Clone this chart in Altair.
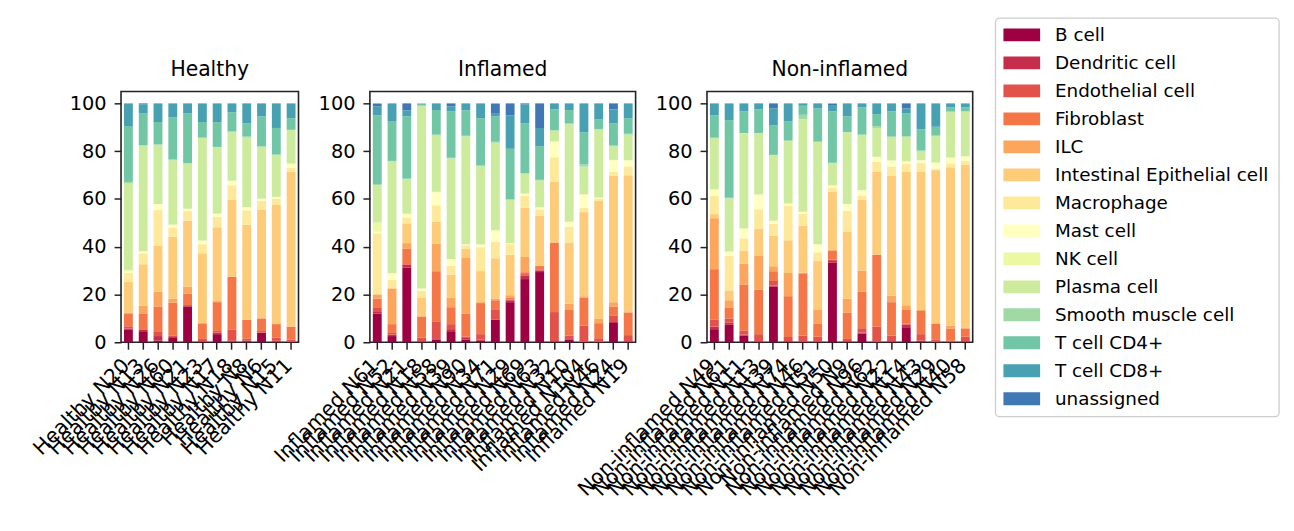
import altair as alt
import pandas as pd

FONT = "DejaVu Sans"

CATEGORIES = ["B cell", "Dendritic cell", "Endothelial cell", "Fibroblast", "ILC",
              "Intestinal Epithelial cell", "Macrophage", "Mast cell", "NK cell",
              "Plasma cell", "Smooth muscle cell", "T cell CD4+", "T cell CD8+", "unassigned"]

COLORS = ["#9e0142", "#c52d4b", "#e2524a", "#f57647", "#fca55d", "#fecb79", "#fee99a",
          "#ffffbf", "#edf8a3", "#cdeb9d", "#a1d9a4", "#70c6a5", "#48a1b3", "#3f78b5"]

HEALTHY_SAMPLES = ["Healthy N20", "Healthy N13", "Healthy N26", "Healthy N60", "Healthy N21",
                   "Healthy N23", "Healthy N17", "Healthy N18", "Healthy N8", "Healthy N6",
                   "Healthy N15", "Healthy N11"]
HEALTHY_VALUES = [
    [5.2, 0.6, 0.9, 5.4, 0.4, 12.8, 3.7, 1.1, 0.1, 36.5, 0.5, 23.4, 9.5, 0.0],
    [4.3, 0.9, 0.3, 6.6, 3.3, 17.3, 4.6, 0.7, 0.1, 44.3, 0.2, 13.4, 3.7, 0.4],
    [0.7, 1.9, 1.7, 10.7, 6.2, 19.4, 14.8, 2.4, 0.1, 24.9, 0.1, 9.4, 7.8, 0.0],
    [1.8, 0.4, 0.7, 13.7, 1.7, 26.0, 3.8, 1.1, 0.1, 26.9, 0.4, 17.7, 5.8, 0.0],
    [15.0, 0.5, 0.1, 4.8, 2.8, 27.7, 4.0, 0.9, 0.1, 18.9, 0.2, 20.8, 4.2, 0.0],
    [0.2, 0.3, 0.9, 6.3, 0.4, 29.2, 3.8, 1.4, 0.1, 43.0, 0.2, 6.5, 7.8, 0.0],
    [3.4, 0.6, 0.7, 12.1, 0.4, 30.9, 4.4, 1.2, 0.1, 27.7, 0.2, 10.4, 7.8, 0.0],
    [0.3, 0.3, 4.6, 22.2, 0.1, 32.3, 6.0, 1.8, 0.1, 20.3, 0.4, 8.0, 3.7, 0.0],
    [0.4, 0.4, 0.7, 7.9, 0.1, 39.7, 6.0, 1.3, 0.1, 29.1, 0.4, 5.6, 8.3, 0.0],
    [3.9, 0.2, 0.6, 5.3, 0.1, 45.4, 3.7, 0.9, 0.1, 21.7, 0.2, 12.6, 5.4, 0.0],
    [0.3, 0.3, 1.3, 5.7, 0.1, 49.8, 2.6, 0.7, 0.1, 17.6, 0.2, 11.1, 10.3, 0.0],
    [0.1, 0.1, 0.9, 5.4, 0.1, 65.0, 1.7, 1.6, 0.1, 14.1, 0.1, 4.9, 6.2, 0.0],
]

INFLAMED_SAMPLES = ["Inflamed N61", "Inflamed N52", "Inflamed N21", "Inflamed N18", "Inflamed N58",
                    "Inflamed N39", "Inflamed N90", "Inflamed N34", "Inflamed N71", "Inflamed N29",
                    "Inflamed N69", "Inflamed N63", "Inflamed N32", "Inflamed N10", "Inflamed N104",
                    "Inflamed N46", "Inflamed N24", "Inflamed N19"]
INFLAMED_VALUES = [
    [12.1, 0.6, 1.7, 3.8, 1.7, 0.4, 25.4, 0.6, 3.9, 15.6, 0.5, 28.8, 3.8, 1.2],
    [2.6, 0.6, 0.7, 3.7, 14.8, 0.4, 3.3, 2.8, 0.1, 46.8, 0.2, 16.7, 7.4, 0.0],
    [31.2, 1.2, 0.3, 6.4, 2.4, 8.3, 2.5, 1.3, 0.2, 14.4, 0.3, 26.1, 2.5, 2.9],
    [0.2, 0.3, 1.4, 8.7, 0.3, 7.9, 2.8, 0.8, 0.1, 76.3, 0.5, 0.7, 0.0, 0.0],
    [1.1, 0.6, 7.1, 21.0, 11.6, 9.1, 6.9, 5.5, 0.2, 23.6, 0.4, 10.3, 2.8, 0.0],
    [4.3, 1.2, 2.1, 7.1, 4.1, 9.5, 3.7, 2.8, 0.1, 42.1, 0.3, 19.5, 2.1, 1.2],
    [1.1, 1.0, 0.2, 9.8, 23.3, 4.0, 1.4, 0.3, 0.1, 45.4, 0.2, 10.7, 2.9, 0.0],
    [0.6, 0.5, 2.3, 13.0, 0.4, 13.0, 10.0, 1.1, 0.1, 32.6, 0.4, 19.8, 6.2, 0.0],
    [9.4, 0.2, 4.2, 3.8, 0.6, 17.0, 6.8, 4.8, 0.1, 36.7, 0.4, 10.7, 1.1, 4.3],
    [16.8, 0.8, 0.3, 0.9, 0.9, 16.9, 4.5, 0.3, 0.1, 18.1, 0.3, 21.1, 14.0, 5.0],
    [26.5, 1.4, 0.7, 0.8, 6.4, 20.6, 5.1, 0.8, 0.1, 8.3, 0.3, 20.9, 7.9, 0.4],
    [29.4, 0.7, 0.2, 1.6, 0.2, 20.9, 2.6, 0.8, 0.1, 11.2, 0.3, 14.1, 7.6, 10.3],
    [0.3, 0.2, 12.2, 29.1, 0.2, 25.4, 10.3, 6.5, 0.2, 4.5, 0.3, 8.7, 2.5, 0.0],
    [1.1, 0.6, 1.1, 10.7, 2.7, 25.6, 6.6, 1.9, 0.1, 40.9, 0.3, 5.6, 2.8, 0.0],
    [0.1, 0.1, 6.8, 11.8, 0.5, 35.3, 1.7, 5.6, 0.2, 11.6, 0.9, 13.5, 12.1, 0.0],
    [0.1, 0.1, 1.5, 6.3, 2.0, 49.1, 1.1, 0.3, 0.1, 28.4, 0.3, 4.1, 6.6, 0.0],
    [8.1, 0.4, 2.8, 3.7, 1.8, 53.1, 1.6, 4.8, 0.2, 5.7, 0.3, 9.3, 5.9, 2.5],
    [0.2, 0.3, 2.5, 9.5, 0.1, 57.3, 3.7, 2.5, 0.1, 10.7, 0.4, 6.5, 6.2, 0.0],
]

NONINFLAMED_SAMPLES = ["Non-inflamed N49", "Non-inflamed N61", "Non-inflamed N11", "Non-inflamed N13",
                       "Non-inflamed N39", "Non-inflamed N74", "Non-inflamed N46", "Non-inflamed N51",
                       "Non-inflamed N50", "Non-inflamed N9", "Non-inflamed N96", "Non-inflamed N62",
                       "Non-inflamed N22", "Non-inflamed N14", "Non-inflamed N43", "Non-inflamed N29",
                       "Non-inflamed N40", "Non-inflamed N58"]
NONINFLAMED_VALUES = [
    [5.5, 1.1, 3.0, 21.1, 21.4, 1.7, 7.8, 2.5, 0.1, 21.5, 0.2, 9.4, 5.0, 0.0],
    [7.3, 1.0, 1.7, 4.6, 3.0, 4.1, 14.5, 1.4, 0.5, 22.1, 0.3, 32.5, 7.0, 0.0],
    [2.8, 0.4, 1.6, 19.3, 8.8, 5.6, 5.1, 4.0, 0.1, 40.0, 0.1, 9.1, 3.3, 0.0],
    [0.2, 0.3, 2.9, 18.7, 14.1, 11.5, 8.1, 6.1, 0.1, 25.7, 0.1, 9.9, 2.5, 0.0],
    [23.4, 0.4, 1.9, 4.1, 2.1, 12.8, 5.0, 1.2, 0.1, 27.5, 0.1, 12.5, 7.0, 2.1],
    [0.3, 0.2, 1.7, 17.1, 9.7, 13.7, 14.5, 0.8, 0.1, 26.1, 0.4, 7.8, 7.6, 0.0],
    [0.2, 0.2, 2.4, 26.1, 0.3, 19.6, 5.0, 0.8, 0.1, 38.8, 1.8, 3.8, 1.0, 0.0],
    [0.2, 0.2, 1.9, 5.4, 6.1, 20.2, 3.7, 3.3, 0.1, 42.8, 0.2, 13.9, 2.1, 0.0],
    [33.3, 0.8, 0.6, 3.8, 0.4, 24.1, 1.6, 1.1, 0.1, 9.2, 0.2, 21.6, 2.3, 1.0],
    [0.2, 0.3, 0.9, 11.1, 5.8, 28.1, 8.8, 2.7, 0.1, 30.1, 0.1, 6.6, 5.4, 0.0],
    [3.6, 0.5, 1.8, 15.4, 8.7, 29.7, 1.9, 2.1, 0.1, 23.2, 0.1, 11.4, 1.7, 0.0],
    [0.1, 0.1, 6.3, 30.1, 0.1, 34.9, 4.0, 2.1, 0.1, 12.1, 0.8, 5.0, 4.5, 0.0],
    [0.2, 0.3, 2.3, 14.0, 2.7, 50.4, 3.7, 2.5, 0.1, 9.8, 0.2, 10.6, 3.3, 0.0],
    [6.3, 1.1, 0.4, 5.7, 2.0, 56.0, 3.1, 1.1, 0.1, 10.2, 0.2, 9.7, 2.0, 2.1],
    [0.4, 0.3, 2.7, 9.7, 0.4, 57.8, 3.9, 0.9, 0.1, 3.6, 0.5, 8.8, 10.9, 0.0],
    [0.1, 0.1, 1.0, 6.5, 0.3, 64.1, 0.5, 2.6, 0.1, 11.2, 0.1, 3.7, 9.8, 0.0],
    [0.2, 0.1, 0.3, 5.2, 1.1, 66.4, 1.7, 2.3, 0.1, 19.0, 0.3, 1.7, 1.7, 0.0],
    [0.2, 0.3, 1.8, 3.5, 0.4, 68.4, 1.6, 1.9, 0.1, 18.7, 0.3, 1.5, 1.7, 0.0],
]

Y_TICKS = [0, 20, 40, 60, 80, 100]


def make_df(samples, values):
    rows = []
    for s, vals in zip(samples, values):
        tot = sum(vals)
        for i, (c, v) in enumerate(zip(CATEGORIES, vals)):
            rows.append({"sample": s, "cell": c, "order": i, "pct": v / tot * 100.0})
    return pd.DataFrame(rows)


color_enc = alt.Color("cell:N", scale=alt.Scale(domain=CATEGORIES, range=COLORS), legend=None)

PLOT_H = 253
STEP = 14.9


def panel(title, samples, values):
    df = make_df(samples, values)
    return alt.Chart(df).mark_bar().encode(
        x=alt.X("sample:N", sort=samples,
                scale=alt.Scale(paddingInner=0.4, paddingOuter=0.2),
                axis=alt.Axis(title=None, labelAngle=315, labelAlign="right", labelBaseline="top",
                              labelOffset=-9, labelPadding=6, labelOverlap=False, labelLimit=400,
                              labelFontSize=20.5, tickSize=7, domain=False)),
        y=alt.Y("pct:Q", stack="zero",
                scale=alt.Scale(domain=[0, 105], nice=False, zero=True),
                axis=alt.Axis(title=None, values=Y_TICKS, grid=False, domain=False,
                              labelFontSize=19.5, tickSize=7, labelPadding=8)),
        color=color_enc,
        order=alt.Order("order:Q", sort="ascending"),
    ).properties(
        width=round(STEP * len(samples)), height=PLOT_H,
        title=alt.TitleParams(title, fontSize=20.5, font=FONT, fontWeight="normal",
                              color="black", offset=11, anchor="middle"),
    )


healthy = panel("Healthy", HEALTHY_SAMPLES, HEALTHY_VALUES)
inflamed = panel("Inflamed", INFLAMED_SAMPLES, INFLAMED_VALUES)
noninfl = panel("Non-inflamed", NONINFLAMED_SAMPLES, NONINFLAMED_VALUES)

# legend drawn as its own small chart
leg_df = pd.DataFrame({"cell": CATEGORIES})
rows_enc = alt.Y("cell:N", sort=CATEGORIES,
                 scale=alt.Scale(type="point", range=[-57, 310], padding=0), axis=None)

box = alt.Chart(pd.DataFrame({"k": [0]})).mark_rect(
    fill="white", stroke="#cccccc", strokeWidth=1.3, cornerRadius=4
).encode(x=alt.value(-49), x2=alt.value(237), y=alt.value(-74), y2=alt.value(328))

swatches = alt.Chart(leg_df).mark_rect(yOffset=-6.5, y2Offset=6.5).encode(
    x=alt.value(-41), x2=alt.value(-4), y=rows_enc, y2=alt.Y2("cell:N"), color=color_enc
)

labels = alt.Chart(leg_df).mark_text(
    align="left", baseline="middle", fontSize=18.5, font=FONT, color="black"
).encode(x=alt.value(11), y=rows_enc, text="cell:N")

legend = alt.layer(box, swatches, labels).properties(
    width=237, height=PLOT_H, view=alt.ViewBackground(stroke="transparent")
)

chart = alt.hconcat(healthy, inflamed, noninfl, legend, spacing=72, bounds="flush").resolve_scale(
    x="independent", y="independent"
).properties(
    padding={"left": 21, "top": 6, "right": 5, "bottom": 5}
).configure_view(
    stroke="#222222", strokeWidth=1.6
).configure_axis(
    labelFont=FONT, labelColor="black",
    tickColor="#222222", tickWidth=1.5
)

chart.save("out.html", embed_options={"renderer": "svg", "actions": False})
